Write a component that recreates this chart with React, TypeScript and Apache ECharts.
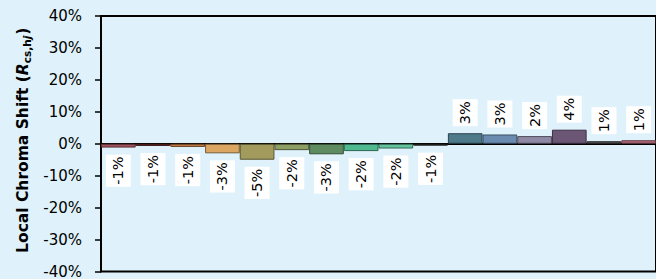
import React, { useEffect, useRef } from "react";
import * as echarts from "echarts";

const categories = ["1", "2", "3", "4", "5", "6", "7", "8", "9", "10", "11", "12", "13", "14", "15", "16"];
const values = [-1.2, -0.7, -1.0, -3.0, -5.0, -2.0, -3.3, -2.3, -1.5, -0.6, 3.3, 2.9, 2.4, 4.4, 0.8, 1.1];
const fillColors = [
  "#a0545e", "#7b3535", "#c57c45", "#daa661", "#a39a5e", "#8d9f64", "#5e8c60", "#4fb990",
  "#62c29c", "#333333", "#4f7a8a", "#6a8ab0", "#8f89a6", "#6b5675", "#555555", "#b36a78",
];
const yTicks = { min: -40, max: 40, interval: 10 };

function darken(hex: string, f: number) {
  const n = parseInt(hex.slice(1), 16);
  const r = Math.round(((n >> 16) & 255) * f);
  const g = Math.round(((n >> 8) & 255) * f);
  const b = Math.round((n & 255) * f);
  return `rgb(${r},${g},${b})`;
}

function roundAway(v: number) {
  return Math.sign(v) * Math.round(Math.abs(v));
}

export default function App() {
  const ref = useRef<HTMLDivElement>(null);
  useEffect(() => {
    if (!ref.current) return;
    const chart = echarts.init(ref.current, undefined, { renderer: "svg" });
    const font = "'DejaVu Sans', sans-serif";
    chart.setOption({
      animation: false,
      backgroundColor: "#dff2fb",
      grid: {
        left: 101,
        top: 16,
        width: 560,
        bottom: 4,
        show: true,
        borderColor: "#000",
        borderWidth: 2,
        backgroundColor: "transparent",
      },
      xAxis: {
        type: "category",
        data: categories,
        axisLine: { show: true, onZero: true, lineStyle: { color: "#000", width: 2 } },
        axisTick: { show: false },
        axisLabel: { show: false },
        splitLine: { show: false },
      },
      yAxis: {
        type: "value",
        min: yTicks.min,
        max: yTicks.max,
        interval: yTicks.interval,
        axisLine: { show: true, lineStyle: { color: "#000", width: 2 } },
        axisTick: { show: true, length: 6, lineStyle: { color: "#000", width: 1.5 } },
        splitLine: { show: false },
        axisLabel: {
          formatter: "{value}%",
          color: "#000",
          fontSize: 15,
          fontFamily: font,
          margin: 19,
        },
        name:
          "{b|Local Chroma Shift (}{r|R}{s|cs,h}{sj|j}{b|)}",
        nameLocation: "middle",
        nameRotate: 90,
        nameGap: 68,
        nameTextStyle: {
          fontFamily: font,
          padding: [0, 0, 0, 7],
          rich: {
            b: { fontSize: 15.5, fontWeight: "bold", color: "#000", fontFamily: font },
            r: { fontSize: 15.5, fontWeight: "bold", fontStyle: "italic", color: "#000", fontFamily: font },
            s: { fontSize: 10.5, fontWeight: "bold", color: "#000", fontFamily: font, padding: [7, 0, 0, 0] },
            sj: { fontSize: 10.5, fontWeight: "bold", fontStyle: "italic", color: "#000", fontFamily: font, padding: [7, 1, 0, 0] },
          },
        },
      },
      series: [
        {
          type: "bar",
          barWidth: "100%",
          barGap: "0%",
          data: values.map((v, i) => ({
            value: v,
            itemStyle: {
              color: fillColors[i],
              borderColor: darken(fillColors[i], 0.55),
              borderWidth: 1,
            },
            label: {
              show: true,
              position: v < 0 ? "bottom" : "top",
              rotate: 90,
              align: v < 0 ? "right" : "left",
              verticalAlign: "middle",
              distance: 7,
              formatter: () => `${roundAway(v)}%`,
              fontSize: 14.5,
              fontFamily: font,
              color: "#000",
              backgroundColor: "#fff",
              lineHeight: 18,
              padding: [4, 2, 3, 2],
            },
          })),
        },
      ],
    });
    return () => chart.dispose();
  }, []);
  return <div ref={ref} style={{ width: 656, height: 279, position: "absolute", left: 0, top: 0 }} />;
}
